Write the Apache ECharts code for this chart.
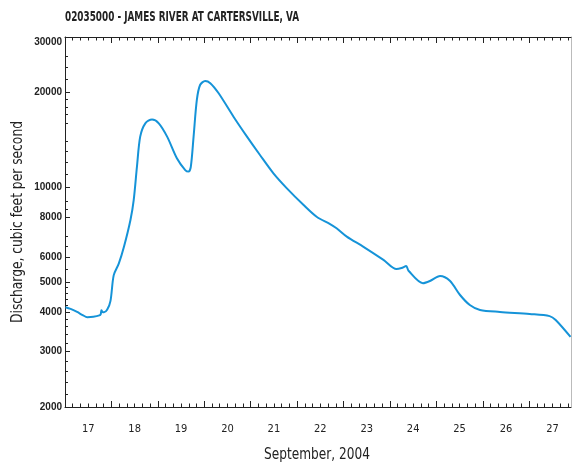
<!DOCTYPE html>
<html><head><meta charset="utf-8">
<script src="https://cdn.jsdelivr.net/npm/echarts@6/dist/echarts.min.js"></script>
<style>html,body{margin:0;padding:0;background:#fff}#c{width:572px;height:462px}</style>
</head><body><div id="c"></div>
<script>
const chartTitle = '02035000 - JAMES RIVER AT CARTERSVILLE, VA';
const yAxisTitle = 'Discharge, cubic feet per second';
const xAxisTitle = 'September, 2004';
// time in days of September 2004 (17.0 = Sept 17, 00:00)
const times = [17.01,17.12,17.26,17.38,17.48,17.61,17.74,17.77,17.785,17.81,17.84,17.91,17.98,18.05,18.16,18.27,18.41,18.48,18.55,18.62,18.73,18.875,19.02,19.20,19.41,19.59,19.66,19.71,19.77,19.84,19.91,20.02,20.13,20.31,20.63,20.92,21.20,21.49,21.78,22.14,22.42,22.71,22.85,23.07,23.43,23.86,24.14,24.25,24.35,24.40,24.71,24.86,25.08,25.29,25.51,25.72,25.94,26.37,27.01,27.44,27.57,27.89];
// discharge, cubic feet per second
const discharge = [4150,4100,4010,3920,3860,3870,3910,3950,4060,4010,4000,4080,4350,5250,5720,6460,7860,9090,11610,14465,15950,16400,15950,14470,12350,11330,11200,11600,14470,18920,21110,21740,21400,19870,16740,14470,12650,11060,9910,8770,8050,7630,7400,6960,6460,5870,5490,5530,5610,5420,4950,5030,5220,5040,4540,4220,4070,4010,3950,3890,3780,3340];
const dayLabels = [17,18,19,20,21,22,23,24,25,26,27];
const yLabelValues = [2000,3000,4000,5000,6000,8000,10000,20000,30000];
const yMinorValues = [2200,2400,2600,2800,3200,3400,3600,3800,4200,4400,4600,4800,5500,6500,7000,8500,9000,11000,12000,13000,14000,16000,17000,18000,19000,22000,24000,26000];

const xMin = 17, xMax = 27.9;
const majorX = dayLabels.filter(d => d > xMin);
const minorX = [];
dayLabels.forEach(d => { for (let k = 1; k < 6; k++) { const v = d + k / 6; if (v < xMax) minorX.push(v); } });
const labelX = dayLabels.map(d => d + 0.5);

const cond = "'DejaVu Sans Condensed','Liberation Sans Narrow',sans-serif";
const ink = '#222';
const tickStyle = { color: ink, width: 1 };

function xAx(pos, ticks, len, extra) {
  return Object.assign({
    type: 'value', position: pos, min: xMin, max: xMax,
    splitLine: { show: false },
    axisLine: { show: false },
    axisTick: { show: true, inside: true, length: len, customValues: ticks, lineStyle: tickStyle },
    axisLabel: { show: false }
  }, extra || {});
}
function yAx(pos, ticks, len, extra) {
  return Object.assign({
    type: 'log', position: pos, min: 2000, max: 30000,
    splitLine: { show: false },
    axisLine: { show: false },
    axisTick: { show: true, inside: true, length: len, customValues: ticks, lineStyle: tickStyle },
    axisLabel: { show: false }
  }, extra || {});
}

const yLabelFont = { fontFamily: "'Liberation Sans',Arial,sans-serif", fontWeight: 'bold', fontSize: 10, color: ink };

const chart = echarts.init(document.getElementById('c'), null, { renderer: 'canvas' });
chart.setOption({
  animation: false,
  backgroundColor: '#fff',
  graphic: [
    { type: 'text', x: 65, y: 17, scaleX: 0.73,
      style: { text: chartTitle, fontFamily: cond, fontWeight: 'bold', fontSize: 13.5, fill: ink, align: 'left', verticalAlign: 'middle' } },
    { type: 'text', x: 18, y: 222, rotation: Math.PI / 2, scaleX: 0.91,
      style: { text: yAxisTitle, fontFamily: cond, fontSize: 15, fill: ink, align: 'center', verticalAlign: 'middle' } },
    { type: 'text', x: 317, y: 455, scaleX: 0.9,
      style: { text: xAxisTitle, fontFamily: cond, fontSize: 15, fill: ink, align: 'center', verticalAlign: 'middle' } }
  ],
  grid: { left: 65, right: 1, top: 37, bottom: 55, containLabel: false, outerBoundsMode: 'none' },
  xAxis: [
    xAx('bottom', majorX, 6, {
      axisLine: { show: true, onZero: false, lineStyle: { color: ink, width: 1 } },
      axisLabel: { show: true, customValues: labelX, formatter: v => String(Math.floor(v)),
        fontFamily: cond, fontSize: 11, color: ink, margin: 17 }
    }),
    xAx('bottom', minorX, 3.5),
    xAx('top', majorX, 6, { axisLine: { show: true, onZero: false, lineStyle: { color: ink, width: 1 } } }),
    xAx('top', minorX, 3.5)
  ],
  yAxis: [
    yAx('left', yLabelValues, 5, {
      axisLine: { show: true, onZero: false, lineStyle: { color: ink, width: 1 } },
      axisLabel: Object.assign({ show: true, customValues: yLabelValues,
        formatter: v => (Math.round(v) === 30000 ? '{low|30000}' : String(Math.round(v))),
        rich: { low: Object.assign({ padding: [10, 0, 0, 0] }, yLabelFont) },
        margin: 3 }, yLabelFont)
    }),
    yAx('left', yMinorValues, 3),
    yAx('right', [], 0, { axisTick: { show: false }, axisLine: { show: true, onZero: false, lineStyle: { color: '#bbb', width: 1 } } })
  ],
  series: [{
    type: 'line', xAxisIndex: 0, yAxisIndex: 0,
    data: times.map((t, i) => [t, discharge[i]]),
    showSymbol: false, smooth: 0.3,
    lineStyle: { color: '#1593d8', width: 2 }
  }]
});
</script></body></html>
